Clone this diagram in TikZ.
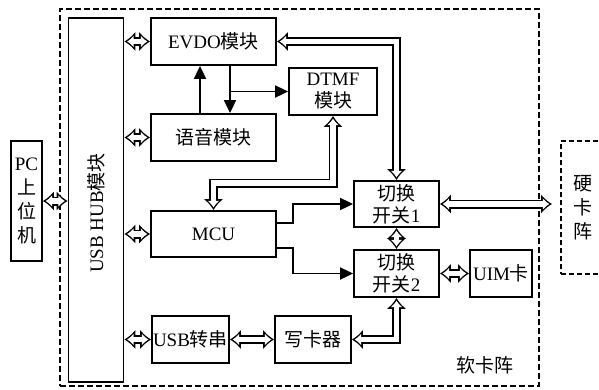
\documentclass[tikz,border=0pt]{standalone}
\usepackage{fontspec}
\setmainfont{Liberation Serif}
\newfontfamily\cjk{Noto Sans CJK SC}
\newcommand{\zh}[1]{{\cjk #1}}
\usetikzlibrary{arrows.meta}

\begin{document}
\begin{tikzpicture}
            [x=1pt, y=-1pt, font=\fontsize{19}{22}\selectfont,
             box/.style={draw, line width=1.8pt, inner sep=0pt, align=center},
             dbl/.style={preaction={draw=black, line width=9pt, shorten <=0pt, shorten >=0pt,
                 arrows={Latex[length=11pt 0,width=20pt 0]-Latex[length=11pt 0,width=20pt 0]}},
               draw=white, line width=5.4pt, shorten <=2.7pt, shorten >=2.7pt,
               arrows={Latex[length=6.5pt 0,width=11.9pt 0]-Latex[length=6.5pt 0,width=11.9pt 0]}},
             sarr/.style={line width=1.8pt, -{Triangle[length=13pt 0,width=12pt 0]}},
             softdash/.style={draw, line width=2.4pt, dash pattern=on 6pt off 3pt},
             harddash/.style={draw, line width=2pt, dash pattern=on 5pt off 3pt}]
            \useasboundingbox (0,0) rectangle (599,389);
            \clip (0,0) rectangle (599,389);

            \node[softdash, minimum width=479, minimum height=377] (soft) at (299.5,197.5) {};
            \node at (485,365) {\zh{软卡阵}};
            \node[harddash, minimum width=80, minimum height=133, anchor=north west] (hard) at (560,140) {};
            \node[align=center, font=\fontsize{19}{24}\selectfont] at (583,208) {\zh{硬}\\\zh{卡}\\\zh{阵}};

            \node[box, minimum width=31, minimum height=120, font=\fontsize{19}{24}\selectfont] (pc) at (26.5,201) {PC\\\zh{上}\\\zh{位}\\\zh{机}};
            \node[box, minimum width=55, minimum height=364] (hub) at (96,200) {};
            \node[rotate=90] at (96,213) {USB HUB\zh{模块}};
            \node[box, minimum width=125, minimum height=47] (evdo) at (213.5,41.5) {EVDO\zh{模块}};
            \node[box, minimum width=125, minimum height=47] (voice) at (213.5,137.5) {\zh{语音模块}};
            \node[box, minimum width=88, minimum height=47] (dtmf) at (333,91.5) {DTMF\\\zh{模块}};
            \node[box, minimum width=125, minimum height=46] (mcu) at (213.5,234) {MCU};
            \node[box, minimum width=77, minimum height=47] (usbser) at (190.5,339.5) {USB\zh{转串}};
            \node[box, minimum width=76, minimum height=47] (writer) at (313,339.5) {\zh{写卡器}};
            \node[box, minimum width=85, minimum height=46] (sw1) at (396.5,204) {\zh{切换}\\\zh{开关}1};
            \node[box, minimum width=85, minimum height=47] (sw2) at (396.5,273.5) {\zh{切换}\\\zh{开关}2};
            \node[box, minimum width=62, minimum height=47] (uim) at (501,273.5) {UIM\zh{卡}};

            % hollow double links
            \draw [dbl] (pc.east) -- (pc.east -| hub.west);
            \draw [dbl] (hub.east |- evdo.west) -- (evdo.west);
            \draw [dbl] (hub.east |- voice.west) -- (voice.west);
            \draw [dbl] (hub.east |- mcu.west) -- (mcu.west);
            \draw [dbl] (hub.east |- usbser.west) -- (usbser.west);
            \draw [dbl] (usbser) -- (writer);
            \draw [dbl] (sw1) -- (sw2);
            \draw [dbl] (sw2) -- (uim);
            \coordinate (hardend) at ([xshift=-8pt]hard.west);
            \draw [dbl] (sw1.east) -- (sw1.east -| hardend);
            \draw [dbl] (evdo.east) -| (sw1.north);
            \draw [dbl] (mcu.north) -- ++(0,-27) -| (dtmf.south);
            \draw [dbl] (writer.east) -| (sw2.south);

            % control lines
            \coordinate (tap) at ([xshift=16.5pt]evdo.south);
            \draw [sarr] ([xshift=-13.5pt]voice.north) -- ([xshift=-13.5pt]evdo.south);
            \draw [sarr] (tap) -- ([xshift=16.5pt]voice.north);
            \draw [sarr] (tap |- dtmf.west) -- (dtmf.west);
            \draw [sarr] ([yshift=11pt]mcu.east) -- ++(16,0) |- (sw1.west);
            \draw [sarr] ([yshift=-14pt]mcu.east) -- ++(16,0) |- (sw2.west);
        \end{tikzpicture}
\end{document}
